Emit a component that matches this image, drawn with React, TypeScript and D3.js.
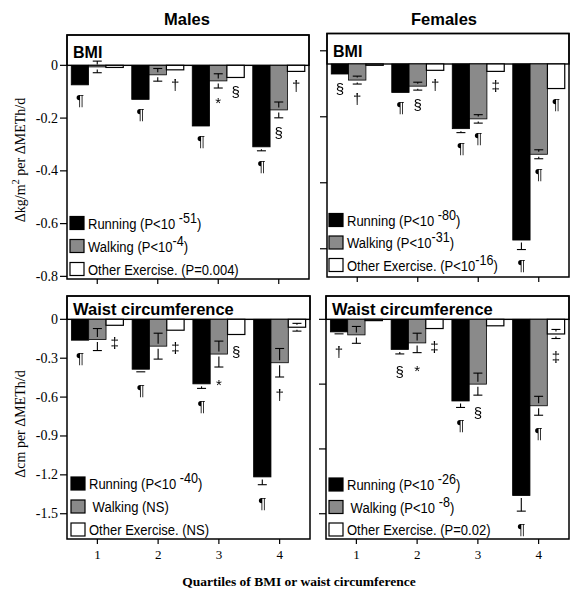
import React from "react";
import * as d3 from "d3";

// ---------- data ----------
const quartiles = [1, 2, 3, 4];
const seriesKeys = ["running", "walking", "other"];
const seriesFill = ["#000000", "#8a8a8a", "#ffffff"];

// Males, BMI (kg/m2 per METh/d)
const maleBmiRunning = [-0.074, -0.129, -0.23, -0.309];
const maleBmiWalking = [-0.006, -0.036, -0.059, -0.169];
const maleBmiOther = [-0.008, -0.017, -0.046, -0.023];
const maleBmiRunningSe = [0, 0, 0, 0.015];
const maleBmiWalkingSe = [0.022, 0.024, 0.027, 0.03];
const maleBmiOtherSe = [0, 0, 0, 0];
const maleBmiRunningSig = ["¶", "¶", "¶", "¶"];
const maleBmiWalkingSig = ["", "", "*", "§"];
const maleBmiOtherSig = ["", "†", "§", "†"];

// Females, BMI
const femaleBmiRunning = [-0.038, -0.108, -0.245, -0.667];
const femaleBmiWalking = [-0.061, -0.084, -0.208, -0.342];
const femaleBmiOther = [-0.005, -0.024, -0.028, -0.093];
const femaleBmiRunningSe = [0, 0, 0.015, 0.036];
const femaleBmiWalkingSe = [0.015, 0.015, 0.016, 0.017];
const femaleBmiOtherSe = [0, 0, 0, 0];
const femaleBmiRunningSig = ["§", "¶", "¶", "¶"];
const femaleBmiWalkingSig = ["†", "§", "¶", "¶"];
const femaleBmiOtherSig = ["", "†", "‡", "¶"];

// Males, waist (cm per METh/d)
const maleWaistRunning = [-0.161, -0.385, -0.498, -1.216];
const maleWaistWalking = [-0.156, -0.207, -0.268, -0.335];
const maleWaistOther = [-0.046, -0.084, -0.117, -0.061];
const maleWaistRunningSe = [0, 0.02, 0.035, 0.06];
const maleWaistWalkingSe = [0.085, 0.1, 0.1, 0.11];
const maleWaistOtherSe = [0, 0, 0, 0.03];
const maleWaistRunningSig = ["¶", "¶", "¶", "¶"];
const maleWaistWalkingSig = ["", "", "*", "†"];
const maleWaistOtherSig = ["‡", "‡", "§", ""];

// Females, waist
const femaleWaistRunning = [-0.097, -0.232, -0.63, -1.36];
const femaleWaistWalking = [-0.12, -0.182, -0.5, -0.667];
const femaleWaistOther = [-0.01, -0.071, -0.05, -0.113];
const femaleWaistRunningSe = [0.015, 0.035, 0.05, 0.12];
const femaleWaistWalkingSe = [0.065, 0.075, 0.085, 0.073];
const femaleWaistOtherSe = [0, 0, 0, 0.035];
const femaleWaistRunningSig = ["†", "§", "¶", "¶"];
const femaleWaistWalkingSig = ["", "*", "§", "¶"];
const femaleWaistOtherSig = ["", "‡", "", "‡"];

// ticks
const maleBmiTicks = [0, -0.2, -0.4, -0.6, -0.8];
const maleBmiTickLabels = ["0", "-0.2", "-0.4", "-0.6", "-0.8"];
const femaleBmiTicks = [0.05, -0.2, -0.45, -0.7];
const maleWaistTicks = [0, -0.3, -0.6, -0.9, -1.2, -1.5];
const maleWaistTickLabels = ["0", "-0.3", "-0.6", "-0.9", "-1.2", "-1.5"];
const femaleWaistTicks = [0, -0.5, -1, -1.5];
const quartileLabels = ["1", "2", "3", "4"];

// legends
const maleBmiLegendMain = ["Running (P<10 ", "Walking (P<10", "Other Exercise. (P=0.004)"];
const maleBmiLegendSup = ["-51", "-4", ""];
const maleBmiLegendTail = [")", ")", ""];
const femaleBmiLegendMain = ["Running (P<10 ", "Walking (P<10", "Other Exercise. (P<10"];
const femaleBmiLegendSup = ["-80", "-31", "-16"];
const femaleBmiLegendTail = [")", ")", ")"];
const maleWaistLegendMain = ["Running (P<10 ", "\u00a0Walking (NS)", "Other Exercise. (NS)"];
const maleWaistLegendSup = ["-40", "", ""];
const maleWaistLegendTail = [")", "", ""];
const femaleWaistLegendMain = ["Running (P<10 ", "\u00a0Walking (P<10 ", "Other Exercise. (P=0.02)"];
const femaleWaistLegendSup = ["-26", "-8", ""];
const femaleWaistLegendTail = [")", ")", ""];

const columnTitles = ["Males", "Females"];
const headerTitles = ["BMI", "Waist circumference"];
const yTitleBmi = ["Δkg/m", "2", " per ΔMETh/d"];
const yTitleWaist = "Δcm per ΔMETh/d";
const xTitle = "Quartiles of BMI or waist circumference";

// ---------- layout ----------
const SANS = "'Liberation Sans', Arial, Helvetica, sans-serif";
const SERIF = "'Liberation Serif', 'Times New Roman', Times, serif";

type PanelCfg = {
  x0: number; x1: number; y0: number; y1: number;
  domain: [number, number];
  header: string; headerBase: number;
  ticks: number[]; tickLabels: string[] | null;
  showX: boolean;
  values: number[][]; se: number[][]; sig: string[][];
  legMain: string[]; legSup: string[]; legTail: string[];
  legX: number; legY: number; legStep: number;
  symOff: number;
};

const panels: PanelCfg[] = [
  {
    x0: 67, x1: 309, y0: 35, y1: 279, domain: [0.115, -0.81],
    header: headerTitles[0], headerBase: 22.5,
    ticks: maleBmiTicks, tickLabels: maleBmiTickLabels, showX: false,
    values: [maleBmiRunning, maleBmiWalking, maleBmiOther],
    se: [maleBmiRunningSe, maleBmiWalkingSe, maleBmiOtherSe],
    sig: [maleBmiRunningSig, maleBmiWalkingSig, maleBmiOtherSig],
    legMain: maleBmiLegendMain, legSup: maleBmiLegendSup, legTail: maleBmiLegendTail,
    legX: 70, legY: 223, legStep: 23, symOff: 20,
  },
  {
    x0: 327, x1: 569, y0: 33.5, y1: 277, domain: [0.1155, -0.807],
    header: headerTitles[0], headerBase: 23,
    ticks: femaleBmiTicks, tickLabels: null, showX: false,
    values: [femaleBmiRunning, femaleBmiWalking, femaleBmiOther],
    se: [femaleBmiRunningSe, femaleBmiWalkingSe, femaleBmiOtherSe],
    sig: [femaleBmiRunningSig, femaleBmiWalkingSig, femaleBmiOtherSig],
    legMain: femaleBmiLegendMain, legSup: femaleBmiLegendSup, legTail: femaleBmiLegendTail,
    legX: 329, legY: 220, legStep: 22.5, symOff: 20,
  },
  {
    x0: 67, x1: 310, y0: 296, y1: 539, domain: [0.18, -1.695],
    header: headerTitles[1], headerBase: 19,
    ticks: maleWaistTicks, tickLabels: maleWaistTickLabels, showX: true,
    values: [maleWaistRunning, maleWaistWalking, maleWaistOther],
    se: [maleWaistRunningSe, maleWaistWalkingSe, maleWaistOtherSe],
    sig: [maleWaistRunningSig, maleWaistWalkingSig, maleWaistOtherSig],
    legMain: maleWaistLegendMain, legSup: maleWaistLegendSup, legTail: maleWaistLegendTail,
    legX: 71, legY: 483.5, legStep: 23, symOff: 23,
  },
  {
    x0: 326, x1: 569, y0: 296, y1: 539, domain: [0.18, -1.695],
    header: headerTitles[1], headerBase: 19,
    ticks: femaleWaistTicks, tickLabels: null, showX: true,
    values: [femaleWaistRunning, femaleWaistWalking, femaleWaistOther],
    se: [femaleWaistRunningSe, femaleWaistWalkingSe, femaleWaistOtherSe],
    sig: [femaleWaistRunningSig, femaleWaistWalkingSig, femaleWaistOtherSig],
    legMain: femaleWaistLegendMain, legSup: femaleWaistLegendSup, legTail: femaleWaistLegendTail,
    legX: 329, legY: 484.5, legStep: 22.5, symOff: 23,
  },
];

function Panel({ p }: { p: PanelCfg }) {
  const x = d3.scaleLinear().domain([0.5, 4.5]).range([p.x0, p.x1]);
  const y = d3.scaleLinear().domain(p.domain).range([p.y0, p.y1]);
  const groupW = 52;
  const sb = d3.scaleBand<string>().domain(seriesKeys).range([-groupW / 2, groupW / 2]);
  const bw = sb.bandwidth();
  const zero = y(0);
  const gap = 2.5;
  const cap = 4.5;

  const bars: React.ReactNode[] = [];
  const errs: React.ReactNode[] = [];
  const syms: React.ReactNode[] = [];
  seriesKeys.forEach((k, si) => {
    quartiles.forEach((q, qi) => {
      const v = p.values[si][qi];
      const s = p.se[si][qi];
      const bx = x(q) + (sb(k) as number);
      const yb = y(v);
      bars.push(
        <rect key={`b${k}${q}`} x={bx} y={zero} width={bw} height={Math.max(0.8, yb - zero)}
          fill={seriesFill[si]} stroke="#000" strokeWidth={si === 2 ? 1.2 : 0.8} />
      );
      const cx = bx + bw / 2;
      let lowest = yb;
      if (s > 0) {
        const yt = y(v + s);
        const yl = y(v - s);
        lowest = yl;
        errs.push(
          <g key={`e${k}${q}`} stroke="#000" strokeWidth={1.1} fill="none">
            <line x1={cx - cap} x2={cx + cap} y1={yt} y2={yt} />
            <line x1={cx} x2={cx} y1={yt} y2={Math.max(yt, yb - gap)} />
            <line x1={cx} x2={cx} y1={Math.min(yl, yb + gap)} y2={yl} />
            <line x1={cx - cap} x2={cx + cap} y1={yl} y2={yl} />
          </g>
        );
      }
      const sg = p.sig[si][qi];
      if (sg) {
        syms.push(
          <text key={`s${k}${q}`} x={cx} y={lowest + p.symOff} textAnchor="middle"
            fontFamily={SANS} fontSize={15} fill="#000">{sg}</text>
        );
      }
    });
  });

  return (
    <g>
      <rect x={p.x0} y={p.y0} width={p.x1 - p.x0} height={zero - p.y0} fill="#fff" stroke="#000" strokeWidth={1.4} />
      <text x={p.x0 + 6} y={p.y0 + p.headerBase} fontFamily={SANS} fontWeight="bold" fontSize={p.header === "BMI" ? 16 : 16.5}>{p.header}</text>
      {bars}
      {errs}
      <g filter="url(#gray)">{syms}</g>
      <rect x={p.x0} y={p.y0} width={p.x1 - p.x0} height={p.y1 - p.y0} fill="none" stroke="#000" strokeWidth={1.5} />
      {p.ticks.map((t, i) => (
        <g key={`yt${i}`}>
          <line x1={p.x0 - 7} x2={p.x0} y1={y(t)} y2={y(t)} stroke="#000" strokeWidth={1.2} />
          {p.tickLabels && (
            <text x={p.x0 - 9} y={y(t) + 4.5} textAnchor="end" fontFamily={SERIF} fontSize={14}>{p.tickLabels[i]}</text>
          )}
        </g>
      ))}
      {quartiles.map((q, i) => (
        <g key={`xt${q}`}>
          <line x1={x(q)} x2={x(q)} y1={p.y1} y2={p.y1 + 5} stroke="#000" strokeWidth={1.2} />
          {p.showX && (
            <text x={x(q)} y={p.y1 + 20} textAnchor="middle" fontFamily={SERIF} fontSize={13}>{quartileLabels[i]}</text>
          )}
        </g>
      ))}
      {p.legMain.map((m, i) => {
        const cy = p.legY + i * p.legStep;
        return (
          <g key={`lg${i}`}>
            <rect x={p.legX} y={cy - 6.5} width={14} height={13} fill={seriesFill[i]} stroke="#000" strokeWidth={1.2} />
            <text transform={`translate(${p.legX + 18},${cy + 5.5}) scale(0.84,1)`} fontFamily={SANS} fontSize={15.5}>
              <tspan>{m}</tspan>
              {p.legSup[i] && <tspan dy={-6} fontSize={15}>{p.legSup[i]}</tspan>}
              {p.legTail[i] && <tspan dy={p.legSup[i] ? 6 : 0}>{p.legTail[i]}</tspan>}
            </text>
          </g>
        );
      })}
    </g>
  );
}

export default function App() {
  return (
    <svg width={579} height={600} style={{ position: "absolute", left: 0, top: 0, background: "#fff" }}
      xmlns="http://www.w3.org/2000/svg">
      <defs>
        <filter id="gray" x={0} y={0} width={579} height={600} filterUnits="userSpaceOnUse">
          <feColorMatrix type="saturate" values="0" />
        </filter>
      </defs>
      <rect x={0} y={0} width={579} height={600} fill="#fff" />
      <text x={187} y={25} textAnchor="middle" fontFamily={SANS} fontWeight="bold" fontSize={16.5}>{columnTitles[0]}</text>
      <text x={444} y={25} textAnchor="middle" fontFamily={SANS} fontWeight="bold" fontSize={16.5}>{columnTitles[1]}</text>
      {panels.map((p, i) => <Panel key={i} p={p} />)}
      <text transform="translate(25,160) rotate(-90)" textAnchor="middle" fontFamily={SERIF} fontSize={14}>
        <tspan>{yTitleBmi[0]}</tspan>
        <tspan dy={-6} fontSize={10.5}>{yTitleBmi[1]}</tspan>
        <tspan dy={6}>{yTitleBmi[2]}</tspan>
      </text>
      <text transform="translate(25,424) rotate(-90)" textAnchor="middle" fontFamily={SERIF} fontSize={14}>{yTitleWaist}</text>
      <text x={299} y={586} textAnchor="middle" fontFamily={SERIF} fontWeight="bold" fontSize={13.5}>{xTitle}</text>
    </svg>
  );
}
